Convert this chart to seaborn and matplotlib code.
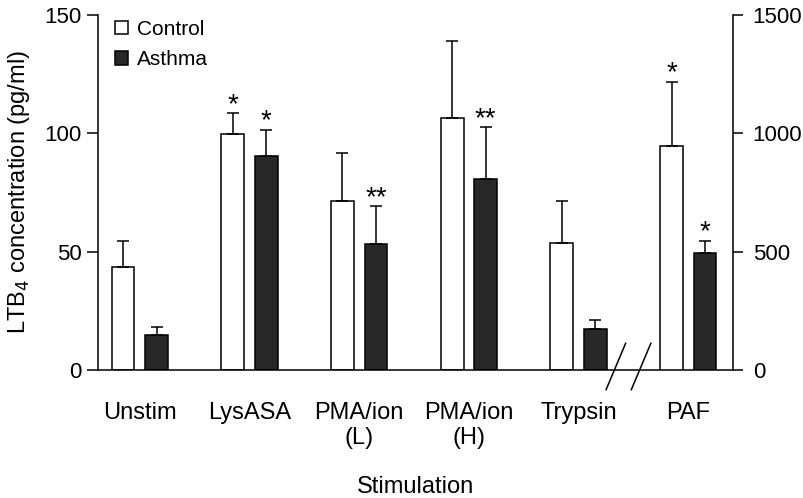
import numpy as np
import pandas as pd
import matplotlib
matplotlib.use("Agg")
import matplotlib.pyplot as plt
import matplotlib.transforms as mtransforms
import seaborn as sns

# values
categories = ["Unstim", "LysASA", "PMA/ion\n(L)", "PMA/ion\n(H)", "Trypsin", "PAF"]
groups = ["Control", "Asthma"]
control_mean = [43.5, 99.5, 71.5, 106.5, 53.5]
control_err = [10.9, 9.0, 20.3, 32.4, 17.9]
asthma_mean = [14.8, 90.2, 53.2, 80.8, 17.3]
asthma_err = [3.3, 11.3, 16.0, 21.8, 3.8]
paf_mean = [948, 493]        # right axis
paf_err = [270, 52]
stars_control = ["", "*", "", "", "", "*"]
stars_asthma = ["", "*", "**", "**", "", "*"]

left_df = pd.DataFrame({
    "stim": categories[:5] * 2,
    "group": ["Control"] * 5 + ["Asthma"] * 5,
    "val": control_mean + asthma_mean,
    "err": control_err + asthma_err,
})
right_df = pd.DataFrame({
    "stim": [categories[5]] * 2,
    "group": groups,
    "val": paf_mean,
    "err": paf_err,
})

sns.set_style("ticks")
plt.rcParams["font.family"] = ["Liberation Sans", "DejaVu Sans"]
plt.rcParams["font.size"] = 16
plt.rcParams["text.color"] = "black"
plt.rcParams["axes.labelcolor"] = "black"
plt.rcParams["xtick.color"] = "black"
plt.rcParams["ytick.color"] = "black"
plt.rcParams["axes.edgecolor"] = "black"

fig = plt.figure(figsize=(8.04, 4.98), dpi=100)
ax = fig.add_axes([0.122, 0.257, 0.790, 0.713])
ax2 = ax.twinx()

palette = {"Control": "white", "Asthma": "#282828"}
bar_kw = dict(x="stim", y="val", hue="group", order=categories, hue_order=groups,
              palette=palette, edgecolor="black", linewidth=1.1, width=0.61,
              gap=0.32, errorbar=None, saturation=1)
sns.barplot(data=left_df, ax=ax, legend=True, **bar_kw)
sns.barplot(data=right_df, ax=ax2, legend=False, **bar_kw)


def add_errs(axis, df, stars):
    for cont, grp, st in zip(axis.containers, groups, stars):
        sub = df[df["group"] == grp].set_index("stim")
        for bar in cont:
            h = bar.get_height()
            if np.isnan(h):
                continue
            xc = bar.get_x() + bar.get_width() / 2
            # match bar to category through the axis position
            i = int(round(xc))
            e = sub.loc[categories[i], "err"]
            axis.errorbar([xc], [h], yerr=[[0], [e]], fmt="none", ecolor="black",
                          elinewidth=1.1, capsize=4.5, capthick=1.1, zorder=1)
            if st[i]:
                axis.annotate(st[i], (xc, h + e), xytext=(0, 1), textcoords="offset points",
                              ha="center", va="baseline", fontsize=20)


add_errs(ax, left_df, [stars_control, stars_asthma])
add_errs(ax2, right_df, [stars_control, stars_asthma])

ax.set_xlim(-0.38, 5.41)
ax.set_ylim(0, 150)
ax2.set_ylim(0, 1500)
ax.set_yticks([0, 50, 100, 150])
ax2.set_yticks([0, 500, 1000, 1500])
ax.tick_params(axis="y", direction="out", length=8, width=1.1, labelsize=16, pad=4)
ax2.tick_params(axis="y", direction="out", length=7, width=1.1, labelsize=16, pad=7)
ax.tick_params(axis="x", length=0, labelsize=17, pad=23)

for a in (ax, ax2):
    a.spines["top"].set_visible(False)
    for sp in a.spines.values():
        sp.set_linewidth(1.1)
ax.spines["right"].set_visible(False)
ax2.spines["left"].set_visible(False)
ax2.spines["bottom"].set_visible(False)

ax.set_ylabel("LTB$_4$ concentration (pg/ml)", fontsize=17)
ax.yaxis.set_label_coords(-0.104, 0.5)
ax.set_xlabel("Stimulation", fontsize=17, labelpad=19)
ax2.set_ylabel("")

# axis break marks between Trypsin and PAF
trans = mtransforms.blended_transform_factory(ax.transData, ax.transAxes)
for xm in (4.34, 4.57):
    ax.plot([xm - 0.09, xm + 0.09], [-0.056, 0.076], color="black", lw=1.1,
            transform=trans, clip_on=False)

leg = ax.legend(loc="upper left", bbox_to_anchor=(0.027, 0.986), frameon=False,
                fontsize=15, handlelength=0.62, handleheight=0.62, handletextpad=0.43,
                labelspacing=0.55, borderaxespad=0, borderpad=0)

fig.savefig("out.png", dpi=100)
